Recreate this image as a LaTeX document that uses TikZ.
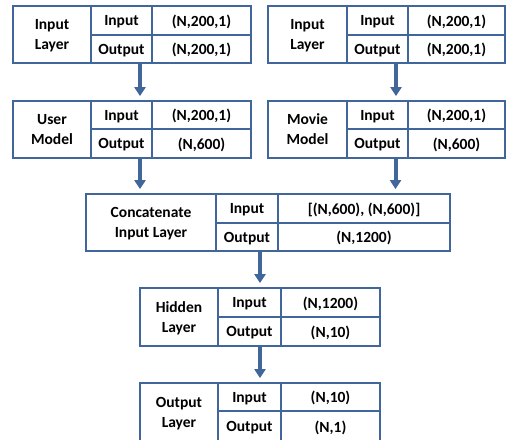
\documentclass[tikz,border=0pt]{standalone}
\usepackage{fontspec}
\setmainfont{Carlito}
\usetikzlibrary{arrows.meta}
\definecolor{bc}{HTML}{41669B}
\newcommand\cellbox[6]{%
  \node[cell, minimum width={#4-#2}, minimum height={#5-#3}] (#1) at ({(#2+#4)/2},{(#3+#5)/2}) {#6};}
\begin{document}
\begin{tikzpicture}[x=1pt,y=-1pt,
  cell/.style={draw=bc, line width=1.8pt, inner sep=0pt, align=center, text=black, text depth=0pt,
    font=\bfseries\fontsize{15.5}{20}\selectfont},
  arr/.style={draw=bc, line width=4pt, -{Triangle[width=11pt,length=9pt]}, shorten >=4pt}]
\useasboundingbox (0,0) rectangle (508,439);
% Input layer (left)
\cellbox{inAl}{13}{6}{91}{63}{Input\\Layer}
\cellbox{inAi}{91}{6}{152}{35}{Input}
\cellbox{inAo}{91}{35}{152}{63}{Output}
\cellbox{inAiv}{152}{6}{251}{35}{(N,200,1)}
\cellbox{inAov}{152}{35}{251}{63}{(N,200,1)}
% Input layer (right)
\cellbox{inBl}{268}{6}{347}{63}{Input\\Layer}
\cellbox{inBi}{347}{6}{408}{35}{Input}
\cellbox{inBo}{347}{35}{408}{63}{Output}
\cellbox{inBiv}{408}{6}{505}{35}{(N,200,1)}
\cellbox{inBov}{408}{35}{505}{63}{(N,200,1)}
% User model
\cellbox{usl}{13}{101}{91}{158}{User\\Model}
\cellbox{usi}{91}{101}{152}{129}{Input}
\cellbox{uso}{91}{129}{152}{158}{Output}
\cellbox{usiv}{152}{101}{251}{129}{(N,200,1)}
\cellbox{usov}{152}{129}{251}{158}{(N,600)}
% Movie model
\cellbox{mvl}{268}{101}{347}{158}{Movie\\Model}
\cellbox{mvi}{347}{101}{408}{129}{Input}
\cellbox{mvo}{347}{129}{408}{158}{Output}
\cellbox{mviv}{408}{101}{505}{129}{(N,200,1)}
\cellbox{mvov}{408}{129}{505}{158}{(N,600)}
% Concatenate
\cellbox{catl}{86}{194}{216}{251}{Concatenate\\Input Layer}
\cellbox{cati}{216}{194}{278}{223}{Input}
\cellbox{cato}{216}{223}{278}{251}{Output}
\cellbox{cativ}{278}{194}{450}{223}{[(N,600), (N,600)]}
\cellbox{catov}{278}{223}{450}{251}{(N,1200)}
% Hidden
\cellbox{hdl}{140}{288}{218}{346}{Hidden\\Layer}
\cellbox{hdi}{218}{288}{281}{317}{Input}
\cellbox{hdo}{218}{317}{281}{346}{Output}
\cellbox{hdiv}{281}{288}{380}{317}{(N,1200)}
\cellbox{hdov}{281}{317}{380}{346}{(N,10)}
% Output layer
\cellbox{otl}{140}{383}{218}{442}{Output\\Layer}
\cellbox{oti}{218}{383}{281}{411}{Input}
\cellbox{oto}{218}{411}{281}{442}{Output}
\cellbox{otiv}{281}{383}{380}{411}{(N,10)}
\cellbox{otov}{281}{411}{380}{442}{(N,1)}
% arrows
\coordinate (a1) at ([xshift=18.5pt]inAo.south);
\coordinate (a2) at ([xshift=18.5pt]inBo.south);
\coordinate (a3) at ([xshift=18.5pt]uso.south);
\coordinate (a4) at ([xshift=18pt]mvo.south);
\coordinate (a5) at ([xshift=13pt]cato.south);
\coordinate (a6) at ([xshift=10.5pt]hdo.south);
\draw[arr] (a1) -- (a1 |- usi.north);
\draw[arr] (a2) -- (a2 |- mvi.north);
\draw[arr] (a3) -- (a3 |- catl.north);
\draw[arr] (a4) -- (a4 |- cativ.north);
\draw[arr] (a5) -- (a5 |- hdi.north);
\draw[arr] (a6) -- (a6 |- oti.north);
\end{tikzpicture}
\end{document}
